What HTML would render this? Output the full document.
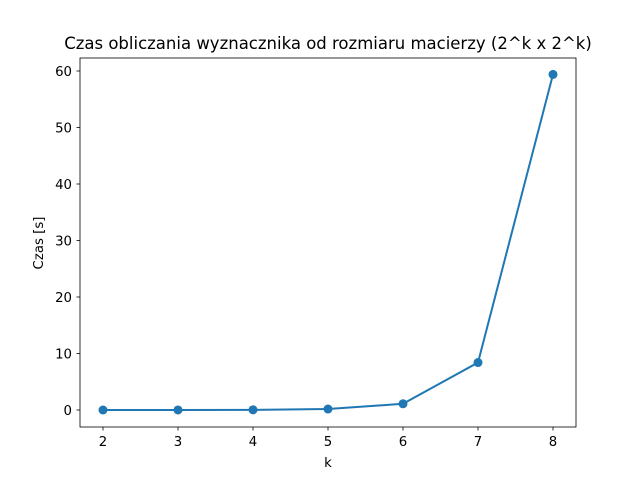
<!DOCTYPE html>
<html><head><meta charset="utf-8"><style>
body{margin:0;background:#fff}
svg text{font-family:"DejaVu Sans","Liberation Sans",sans-serif;fill:#000}
</style></head><body>
<svg id="chart" width="640" height="480">
<rect x="0" y="0" width="640" height="480" fill="#fff"/>
<text x="328" y="49" font-size="16.5" text-anchor="middle">Czas obliczania wyznacznika od rozmiaru macierzy (2^k x 2^k)</text>
<g id="ticks"></g>
<g id="series"></g>
<rect x="80" y="58" width="496" height="369" fill="none" stroke="#000" stroke-width="0.8"/>
<text x="328" y="467" font-size="13.3" text-anchor="middle">k</text>
<text x="0" y="0" font-size="13.3" text-anchor="middle" transform="translate(43,243) rotate(-90)">Czas [s]</text>
</svg>
<script>
const categories=[2,3,4,5,6,7,8];
const values=[0.0,0.01,0.03,0.17,1.1,8.4,59.4];
const xTicks=[2,3,4,5,6,7,8];
const yTicks=[0,10,20,30,40,50,60];
const ns="http://www.w3.org/2000/svg";
const sx=v=>103+(v-2)*75;
const sy=v=>410-v*5.65;
function mk(t,a,p){const e=document.createElementNS(ns,t);for(const k in a)e.setAttribute(k,a[k]);p.appendChild(e);return e;}
const tg=document.getElementById('ticks');
xTicks.forEach(v=>{
 const l=mk('line',{x1:sx(v),x2:sx(v),y1:427,y2:430.5,stroke:'#000','stroke-width':0.8},tg);
 
 
 const t=mk('text',{x:sx(v),y:446,'font-size':13.3,'text-anchor':'middle'},tg);t.textContent=v;
 
 
});
yTicks.forEach(v=>{
 const l=mk('line',{x1:76.5,x2:80,y1:sy(v),y2:sy(v),stroke:'#000','stroke-width':0.8},tg);
 
 
 const t=mk('text',{x:72,y:sy(v)+5,'font-size':13.3,'text-anchor':'end'},tg);t.textContent=v;
 
 
});
const sg=document.getElementById('series');
const pl=mk('polyline',{points:categories.map((c,i)=>sx(c)+','+sy(values[i])).join(' '),fill:'none',stroke:'#1f77b4','stroke-width':2},sg);


categories.forEach((c,i)=>{
 const p=mk('circle',{cx:sx(c),cy:sy(values[i]),r:4.5,fill:'#1f77b4'},sg);
 
 
});
</script>
</body></html>
